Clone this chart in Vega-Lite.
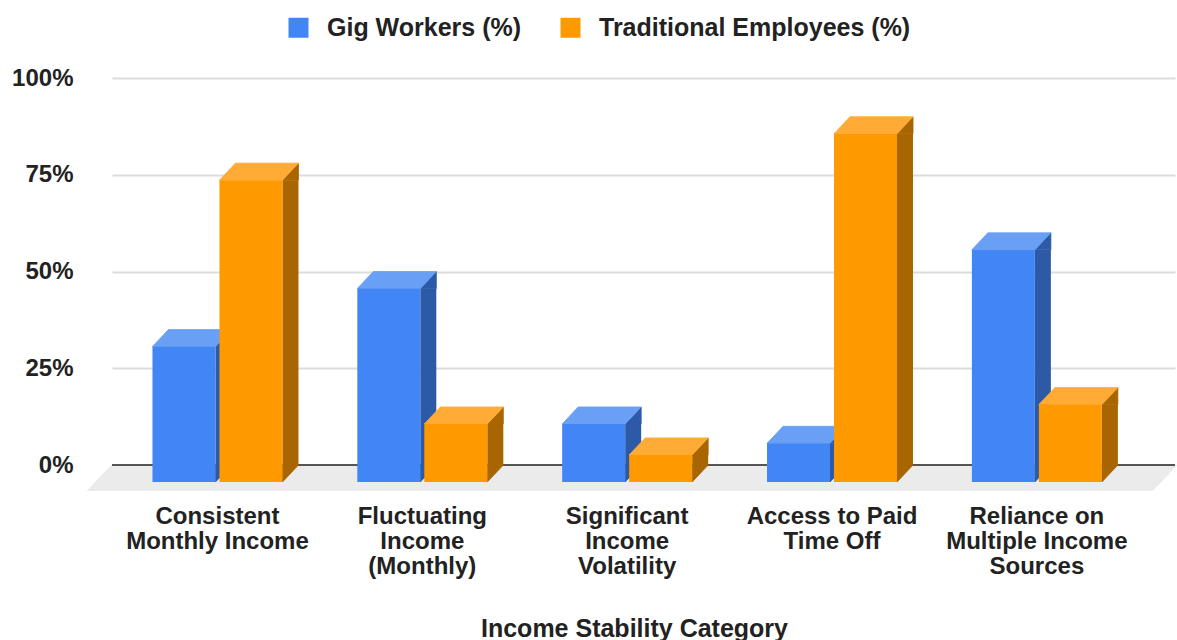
{
  "$schema": "https://vega.github.io/schema/vega-lite/v6.json",
  "width": 1063,
  "height": 387,
  "autosize": {"type": "none"},
  "padding": {"left": 112, "top": 78, "right": 2, "bottom": 175},
  "background": "white",
  "config": {
    "view": {"stroke": null},
    "font": "Liberation Sans",
    "axis": {"labelFont": "Liberation Sans", "titleFont": "Liberation Sans"},
    "legend": {"labelFont": "Liberation Sans"}
  },
  "data": {
    "values": [
      {"category": "Consistent Monthly Income", "series": "Gig Workers (%)", "value": 35},
      {"category": "Consistent Monthly Income", "series": "Traditional Employees (%)", "value": 78},
      {"category": "Fluctuating Income (Monthly)", "series": "Gig Workers (%)", "value": 50},
      {"category": "Fluctuating Income (Monthly)", "series": "Traditional Employees (%)", "value": 15},
      {"category": "Significant Income Volatility", "series": "Gig Workers (%)", "value": 15},
      {"category": "Significant Income Volatility", "series": "Traditional Employees (%)", "value": 7},
      {"category": "Access to Paid Time Off", "series": "Gig Workers (%)", "value": 10},
      {"category": "Access to Paid Time Off", "series": "Traditional Employees (%)", "value": 90},
      {"category": "Reliance on Multiple Income Sources", "series": "Gig Workers (%)", "value": 60},
      {"category": "Reliance on Multiple Income Sources", "series": "Traditional Employees (%)", "value": 20}
    ]
  },
  "encoding": {
    "x": {
      "field": "category",
      "type": "nominal",
      "sort": null,
      "scale": {"paddingInner": 0.3459, "paddingOuter": 0.2675, "align": 0.351},
      "axis": {
        "title": "Income Stability Category",
        "titleFontSize": 25,
        "titleFontWeight": "bold",
        "titleColor": "#222222",
        "titleBaseline": "alphabetic",
        "titleX": 522,
        "titleY": 171,
        "labelAngle": 0,
        "labelFontSize": 24,
        "labelFontWeight": "bold",
        "labelColor": "#222222",
        "labelLineHeight": 25,
        "labelPadding": 39,
        "labelLimit": 400,
        "ticks": false,
        "domain": false,
        "grid": false,
        "labelExpr": "datum.value == 'Consistent Monthly Income' ? ['Consistent', 'Monthly Income'] : datum.value == 'Fluctuating Income (Monthly)' ? ['Fluctuating', 'Income', '(Monthly)'] : datum.value == 'Significant Income Volatility' ? ['Significant', 'Income', 'Volatility'] : datum.value == 'Access to Paid Time Off' ? ['Access to Paid', 'Time Off'] : ['Reliance on', 'Multiple Income', 'Sources']"
      }
    },
    "xOffset": {"field": "series", "type": "nominal", "sort": null, "scale": {"paddingInner": 0, "paddingOuter": 0}}
  },
  "layer": [
    {
      "mark": {"type": "point", "shape": "M-531.5,0L533.5,0L508.5,26L-556.5,26Z", "size": 4, "filled": true, "fill": "#ebebeb", "strokeWidth": 0, "opacity": 1},
      "encoding": {
        "x": null,
        "xOffset": null,
        "y": {
          "datum": 0,
          "type": "quantitative",
          "scale": {"domain": [0, 100], "nice": false},
          "axis": {
            "title": null,
            "values": [0, 25, 50, 75, 100],
            "labelExpr": "datum.value + '%'",
            "labelFontSize": 24,
            "labelFontWeight": "bold",
            "labelColor": "#222222",
            "labelPadding": 39,
            "ticks": false,
            "domain": false,
            "grid": true,
            "gridColor": "#dcdcdc",
            "gridWidth": 2
          }
        }
      }
    },
    {
      "mark": {"type": "rule", "color": "#555555", "strokeWidth": 2},
      "encoding": {"x": null, "xOffset": null, "y": {"datum": 0, "type": "quantitative"}}
    },
    {
      "transform": [{"filter": "datum.series === 'Gig Workers (%)'"}],
      "mark": {"type": "rule", "strokeWidth": 16, "strokeCap": "butt", "color": "#2d5aa6", "xOffset": 6, "yOffset": 17, "y2Offset": 0},
      "encoding": {
        "xOffset": null,
        "y": {"field": "value", "type": "quantitative"},
        "y2": {"datum": 0}
      }
    },
    {
      "transform": [{"filter": "datum.series === 'Traditional Employees (%)'"}],
      "mark": {"type": "rule", "strokeWidth": 16, "strokeCap": "butt", "color": "#a86500", "xOffset": 73, "yOffset": 17, "y2Offset": 0},
      "encoding": {
        "xOffset": null,
        "y": {"field": "value", "type": "quantitative"},
        "y2": {"datum": 0}
      }
    },
    {
      "mark": {"type": "point", "shape": "M31.5,17L47.5,0L47.5,17Z", "size": 4, "filled": true, "opacity": 1, "strokeWidth": 0.8},
      "encoding": {
        "y": {"field": "value", "type": "quantitative"},
        "fill": {"condition": {"test": "datum.series === 'Gig Workers (%)'", "value": "#2d5aa6"}, "value": "#a86500"},
        "stroke": {"condition": {"test": "datum.series === 'Gig Workers (%)'", "value": "#2d5aa6"}, "value": "#a86500"}
      }
    },
    {
      "mark": {"type": "point", "shape": "M31.5,0L47.5,0L31.5,17Z", "size": 4, "filled": true, "opacity": 1, "strokeWidth": 0.8},
      "encoding": {
        "y": {"datum": 0, "type": "quantitative"},
        "fill": {"condition": {"test": "datum.series === 'Gig Workers (%)'", "value": "#2d5aa6"}, "value": "#a86500"},
        "stroke": {"condition": {"test": "datum.series === 'Gig Workers (%)'", "value": "#2d5aa6"}, "value": "#a86500"}
      }
    },
    {
      "mark": {"type": "point", "shape": "M-31.5,17L31.5,17L47.5,0L-15.5,0Z", "size": 4, "filled": true, "opacity": 1, "strokeWidth": 0.8},
      "encoding": {
        "y": {"field": "value", "type": "quantitative"},
        "fill": {"condition": {"test": "datum.series === 'Gig Workers (%)'", "value": "#6a9ff6"}, "value": "#ffab36"},
        "stroke": {"condition": {"test": "datum.series === 'Gig Workers (%)'", "value": "#6a9ff6"}, "value": "#ffab36"}
      }
    },
    {
      "mark": {"type": "bar", "width": 63, "yOffset": 17, "y2Offset": 17},
      "encoding": {
        "y": {"field": "value", "type": "quantitative"},
        "y2": {"datum": 0},
        "color": {
          "field": "series",
          "type": "nominal",
          "sort": null,
          "scale": {"domain": ["Gig Workers (%)", "Traditional Employees (%)"], "range": ["#4285f4", "#ff9900"]},
          "legend": {
            "title": null,
            "orient": "none",
            "direction": "horizontal",
            "legendX": 174,
            "legendY": -63,
            "symbolType": "square",
            "symbolSize": 400,
            "symbolStrokeWidth": 0,
            "symbolOpacity": 1,
            "labelFontSize": 25,
            "labelFontWeight": "bold",
            "labelColor": "#222222",
            "labelOffset": 16,
            "labelLimit": 500,
            "columnPadding": 36
          }
        }
      }
    }
  ]
}
